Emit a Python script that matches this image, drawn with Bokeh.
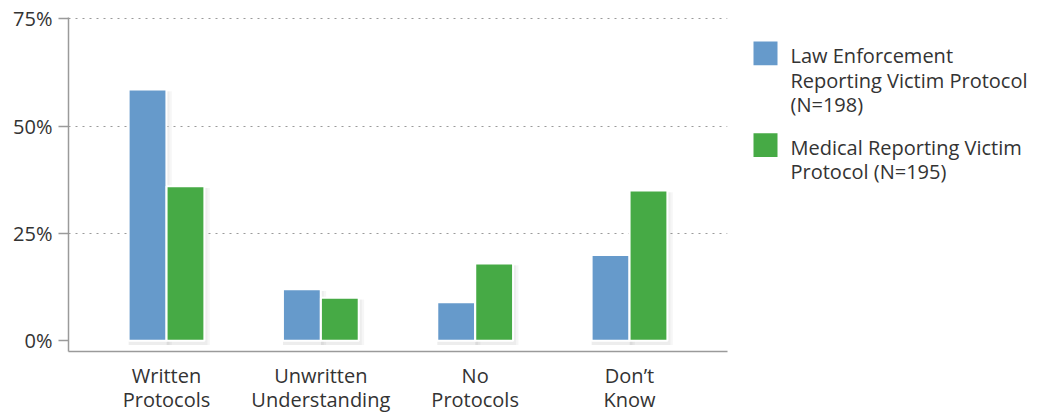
from bokeh.plotting import figure
from bokeh.models import FactorRange, Range1d, FixedTicker, ColumnDataSource
from bokeh.transform import dodge
from bokeh.layouts import row
from bokeh.core.properties import value
from bokeh.embed import file_html
from bokeh.resources import INLINE

categories = ["Written\nProtocols", "Unwritten\nUnderstanding", "No\nProtocols", "Don\u2019t\nKnow"]
law_enforcement = [58.5, 12, 9, 20]
medical = [36, 10, 18, 35]
series_labels = ["Law Enforcement\nReporting Victim Protocol\n(N=198)",
                 "Medical Reporting Victim\nProtocol (N=195)"]
y_ticks = [0, 25, 50, 75]
y_tick_labels = ["0%", "25%", "50%", "75%"]

BLUE = "#669ACB"
GREEN = "#46AA45"
TEXT = "#333333"
FONT = "Open Sans"
FS = "20px"

src = ColumnDataSource(dict(cat=categories, law=law_enforcement, med=medical,
                            law_sh=[v - 0.4 for v in law_enforcement],
                            med_sh=[v - 0.4 for v in medical]))

p = figure(width=748, height=415, output_backend="svg", toolbar_location=None,
           x_range=FactorRange(*categories, range_padding=0.135, range_padding_units="absolute"),
           y_range=Range1d(-2.5, 75.3),
           min_border_left=68, min_border_top=17, min_border_bottom=63, min_border_right=21)
p.outline_line_color = None
p.background_fill_color = "white"

# soft shadows
for off in (0.02, 0.035):
    p.vbar(x=dodge("cat", -0.123 + off / 2, range=p.x_range), top="law_sh", bottom=-1.0,
           width=0.245 + off, source=src, fill_color="black", fill_alpha=0.035, line_color=None)
    p.vbar(x=dodge("cat", 0.123 + off / 2, range=p.x_range), top="med_sh", bottom=-1.0,
           width=0.245 + off, source=src, fill_color="black", fill_alpha=0.035, line_color=None)

p.vbar(x=dodge("cat", -0.123, range=p.x_range), top="law", bottom=0, width=0.245, source=src,
       fill_color=BLUE, line_color="white", line_width=2)
p.vbar(x=dodge("cat", 0.123, range=p.x_range), top="med", bottom=0, width=0.245, source=src,
       fill_color=GREEN, line_color="white", line_width=2)

p.xgrid.grid_line_color = None
p.ygrid.ticker = FixedTicker(ticks=y_ticks[1:])
p.ygrid.grid_line_color = "#9a9a9a"
p.ygrid.grid_line_dash = "2 5"
p.ygrid.grid_line_width = 1
p.ygrid.level = "underlay"

p.yaxis.ticker = FixedTicker(ticks=y_ticks)
p.yaxis.major_label_overrides = {t: l for t, l in zip(y_ticks, y_tick_labels)}
p.yaxis.minor_tick_line_color = None
p.yaxis.major_tick_out = 10
p.yaxis.major_tick_in = 0
p.yaxis.major_tick_line_color = "#9a9a9a"
p.yaxis.major_tick_line_width = 1.5
p.yaxis.axis_line_color = "#9a9a9a"
p.yaxis.axis_line_width = 1.5
p.yaxis.major_label_standoff = 6
p.yaxis.major_label_text_font = FONT
p.yaxis.major_label_text_font_size = FS
p.yaxis.major_label_text_color = TEXT

p.xaxis.major_tick_line_color = None
p.xaxis.minor_tick_line_color = None
p.xaxis.axis_line_color = "#9a9a9a"
p.xaxis.axis_line_width = 1.5
p.xaxis.major_label_standoff = 4
p.xaxis.major_label_text_font = FONT
p.xaxis.major_label_text_font_size = FS
p.xaxis.major_label_text_color = TEXT
p.xaxis.major_label_text_line_height = 0.9

# legend panel (its frame is aligned with the main plot's frame: page px 17..352)
lg = figure(width=299, height=415, output_backend="svg", toolbar_location=None,
            x_range=Range1d(0, 299), y_range=Range1d(352, 17),
            min_border=0)
lg.axis.visible = False
lg.grid.visible = False
lg.outline_line_color = None
lsrc = ColumnDataSource(dict(x=[17, 17], y=[53, 145], tx=[42, 42], ty=[42, 134],
                             color=[BLUE, GREEN], label=series_labels))
lg.rect(x="x", y="y", width=24, height=24, source=lsrc, fill_color="color", line_color=None)
lg.text(x="tx", y="ty", text="label", source=lsrc, text_font=value(FONT),
        text_font_size=FS, text_color=TEXT, text_baseline="top", text_line_height=0.9)

layout = row(p, lg)
open("out.html", "w").write(file_html(layout, INLINE))
